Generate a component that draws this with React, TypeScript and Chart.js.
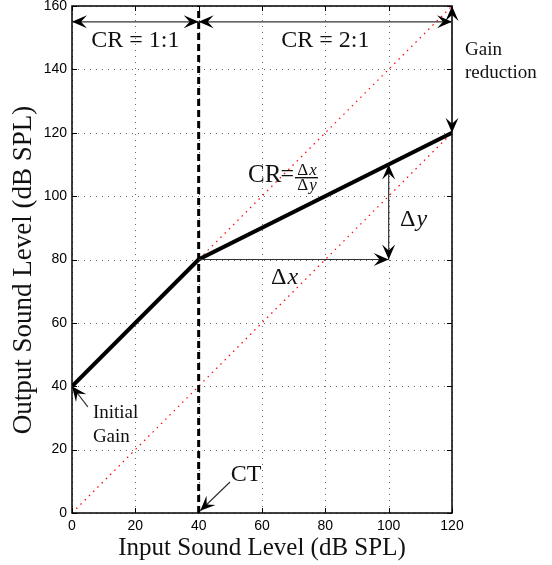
import React, { useEffect, useRef } from "react";
import { Chart, registerables } from "chart.js";
Chart.register(...registerables);

// ---- data ----
const xTicks = [0, 20, 40, 60, 80, 100, 120];
const yTicks = [0, 20, 40, 60, 80, 100, 120, 140, 160];
const inputLevel = [0, 40, 120];
const outputLevel = [40, 80, 120];
const unityX = [0, 120];
const unityY = [0, 120];
const gainLineX = [0, 120];
const gainLineY = [40, 160];
const thresholdX = [40, 40];
const thresholdY = [0, 160];

// arrows in data coordinates
const arrowFrom = [[0, 155], [40, 155], [120, 160], [40, 80], [100, 110], [5, 33.5], [49.9, 9.8]];
const arrowTo = [[40, 155], [120, 155], [120, 120], [100, 80], [100, 80], [0, 40], [40.5, 0.7]];
const arrowBoth = [true, true, true, false, true, false, false];

// text labels in data coordinates
const labelText = ["CR = 1:1", "CR = 2:1", "Gain", "reduction", "Initial", "Gain", "CT"];
const labelX = [20, 80, 124.1, 124.1, 6.6, 6.6, 55];
const labelY = [149, 149, 146, 138.8, 31.6, 24, 12];
const labelSize = [24, 24, 19, 19, 19, 19, 24];
const labelAlign = ["center", "center", "left", "left", "left", "left", "center"];

// math labels
const deltaYLabel = { x: 107.7, y: 92.5, v: "y" };
const deltaXLabel = { x: 67, y: 74.2, v: "x" };
const crLabel = { x: 55.6, y: 104.4 };

const xTitle = "Input Sound Level (dB SPL)";
const yTitle = "Output Sound Level (dB SPL)";

const SERIF = '"Liberation Serif", "DejaVu Serif", serif';
const SANS = '"Liberation Sans", Arial, sans-serif';

function drawHead(ctx: CanvasRenderingContext2D, tx: number, ty: number, fx: number, fy: number) {
  const a = Math.atan2(ty - fy, tx - fx);
  const L = 15, W = 6.5, N = 9;
  ctx.save();
  ctx.translate(tx, ty);
  ctx.rotate(a);
  ctx.beginPath();
  ctx.moveTo(0, 0);
  ctx.lineTo(-L, W);
  ctx.lineTo(-N, 0);
  ctx.lineTo(-L, -W);
  ctx.closePath();
  ctx.fillStyle = "#000";
  ctx.fill();
  ctx.restore();
}

function drawDelta(
  ctx: CanvasRenderingContext2D,
  v: string,
  cx: number,
  cy: number,
  size: number,
  baseline: CanvasTextBaseline = "middle"
) {
  ctx.font = `${size}px ${SERIF}`;
  const w1 = ctx.measureText("Δ").width;
  ctx.font = `italic ${size}px ${SERIF}`;
  const w2 = ctx.measureText(v).width;
  const start = cx - (w1 + w2) / 2;
  ctx.textAlign = "left";
  ctx.textBaseline = baseline;
  ctx.font = `${size}px ${SERIF}`;
  ctx.fillText("Δ", start, cy);
  ctx.font = `italic ${size}px ${SERIF}`;
  ctx.fillText(v, start + w1 + 1, cy);
  return w1 + w2;
}

const annotPlugin = {
  id: "annot",
  beforeDatasetsDraw(chart: any) {
    const { ctx, chartArea: a, scales } = chart;
    const xs = scales.x, ys = scales.y;
    ctx.save();
    ctx.strokeStyle = "#666";
    ctx.lineWidth = 1;
    ctx.setLineDash([1, 5]);
    xTicks.forEach((t) => {
      const px = Math.round(xs.getPixelForValue(t)) + 0.5;
      ctx.beginPath();
      ctx.moveTo(px, a.bottom);
      ctx.lineTo(px, a.top);
      ctx.stroke();
    });
    yTicks.forEach((t) => {
      const py = Math.round(ys.getPixelForValue(t)) + 0.5;
      ctx.beginPath();
      ctx.moveTo(a.left, py);
      ctx.lineTo(a.right, py);
      ctx.stroke();
    });
    ctx.restore();
  },
  afterDatasetsDraw(chart: any) {
    const { ctx, chartArea: a, scales } = chart;
    const xs = scales.x, ys = scales.y;
    ctx.save();
    // box + inward ticks
    ctx.setLineDash([]);
    ctx.strokeStyle = "#000";
    ctx.lineWidth = 1.5;
    ctx.strokeRect(a.left, a.top, a.right - a.left, a.bottom - a.top);
    ctx.lineWidth = 1;
    const tl = 5;
    xTicks.forEach((t) => {
      const px = Math.round(xs.getPixelForValue(t)) + 0.5;
      ctx.beginPath();
      ctx.moveTo(px, a.bottom);
      ctx.lineTo(px, a.bottom - tl);
      ctx.moveTo(px, a.top);
      ctx.lineTo(px, a.top + tl);
      ctx.stroke();
    });
    yTicks.forEach((t) => {
      const py = Math.round(ys.getPixelForValue(t)) + 0.5;
      ctx.beginPath();
      ctx.moveTo(a.left, py);
      ctx.lineTo(a.left + tl, py);
      ctx.moveTo(a.right, py);
      ctx.lineTo(a.right - tl, py);
      ctx.stroke();
    });

    // arrows
    arrowFrom.forEach((f, i) => {
      const t = arrowTo[i];
      const fx = xs.getPixelForValue(f[0]), fy = ys.getPixelForValue(f[1]);
      const tx = xs.getPixelForValue(t[0]), ty = ys.getPixelForValue(t[1]);
      ctx.strokeStyle = "#333";
      ctx.lineWidth = 1.2;
      ctx.beginPath();
      ctx.moveTo(fx, fy);
      ctx.lineTo(tx, ty);
      ctx.stroke();
      drawHead(ctx, tx, ty, fx, fy);
      if (arrowBoth[i]) drawHead(ctx, fx, fy, tx, ty);
    });

    // text labels
    ctx.fillStyle = "#111";
    labelText.forEach((txt, i) => {
      ctx.font = `${labelSize[i]}px ${SERIF}`;
      ctx.textAlign = labelAlign[i] as CanvasTextAlign;
      ctx.textBaseline = "middle";
      ctx.fillText(txt, xs.getPixelForValue(labelX[i]), ys.getPixelForValue(labelY[i]));
    });

    // delta labels
    drawDelta(ctx, deltaYLabel.v, xs.getPixelForValue(deltaYLabel.x), ys.getPixelForValue(deltaYLabel.y), 24);
    drawDelta(ctx, deltaXLabel.v, xs.getPixelForValue(deltaXLabel.x), ys.getPixelForValue(deltaXLabel.y), 24);

    // CR = Δx/Δy
    const cx = xs.getPixelForValue(crLabel.x), cb = ys.getPixelForValue(crLabel.y);
    ctx.textAlign = "left";
    ctx.textBaseline = "alphabetic";
    ctx.font = `25px ${SERIF}`;
    ctx.fillText("CR", cx, cb);
    const wcr = ctx.measureText("CR").width;
    ctx.font = `24px ${SERIF}`;
    ctx.fillText("=", cx + wcr - 1, cb - 1);
    const weq = ctx.measureText("=").width;
    const fx0 = cx + wcr + weq;
    const fw = 23;
    drawDelta(ctx, "x", fx0 + fw / 2, cb - 7.5, 17, "alphabetic");
    drawDelta(ctx, "y", fx0 + fw / 2, cb + 8, 17, "alphabetic");
    ctx.strokeStyle = "#111";
    ctx.lineWidth = 1.4;
    ctx.beginPath();
    ctx.moveTo(fx0, cb - 4.5);
    ctx.lineTo(fx0 + fw, cb - 4.5);
    ctx.stroke();

    // y axis title
    ctx.save();
    ctx.translate(24, 270);
    ctx.rotate(-Math.PI / 2);
    ctx.font = `27px ${SERIF}`;
    ctx.textAlign = "center";
    ctx.textBaseline = "middle";
    ctx.fillStyle = "#111";
    ctx.fillText(yTitle, 0, 0);
    ctx.restore();
    ctx.restore();
  },
};

const pts = (xs: number[], ys: number[]) => xs.map((x, i) => ({ x, y: ys[i] }));

export default function App() {
  const ref = useRef<HTMLCanvasElement | null>(null);
  useEffect(() => {
    document.body.style.margin = "0";
    const chart = new Chart(ref.current as HTMLCanvasElement, {
      type: "line",
      data: {
        datasets: [
          {
            data: pts(inputLevel, outputLevel),
            borderColor: "#000",
            borderWidth: 4,
            pointRadius: 0,
            borderCapStyle: "round",
          },
          {
            data: pts(thresholdX, thresholdY),
            borderColor: "#000",
            borderWidth: 3,
            borderDash: [7, 4],
            pointRadius: 0,
          },
          {
            data: pts(gainLineX, gainLineY),
            borderColor: "#f00",
            borderWidth: 1.2,
            borderDash: [1.5, 4.5],
            pointRadius: 0,
          },
          {
            data: pts(unityX, unityY),
            borderColor: "#f00",
            borderWidth: 1.2,
            borderDash: [1.5, 4.5],
            pointRadius: 0,
          },
        ],
      },
      options: {
        responsive: false,
        animation: false,
        layout: { padding: { left: 0, top: 6, right: 100, bottom: 0 } },
        plugins: { legend: { display: false }, tooltip: { enabled: false } },
        scales: {
          x: {
            type: "linear",
            min: 0,
            max: 120,
            afterBuildTicks: (s: any) => {
              s.ticks = xTicks.map((v) => ({ value: v }));
            },
            afterFit: (s: any) => {
              s.height = 52;
              s.paddingLeft = 0;
              s.paddingRight = 0;
            },
            ticks: { font: { family: SANS, size: 14 }, color: "#000", padding: 5, maxRotation: 0 },
            grid: { display: false, drawTicks: false },
            border: { display: false },
            title: {
              display: true,
              text: xTitle,
              font: { family: SERIF, size: 25 },
              color: "#111",
              padding: { top: 0, bottom: 2 },
            },
          },
          y: {
            type: "linear",
            min: 0,
            max: 160,
            afterBuildTicks: (s: any) => {
              s.ticks = yTicks.map((v) => ({ value: v }));
            },
            afterFit: (s: any) => {
              s.width = 72;
              s.paddingTop = 0;
              s.paddingBottom = 0;
            },
            ticks: { font: { family: SANS, size: 14 }, color: "#000", padding: 5 },
            grid: { display: false, drawTicks: false },
            border: { display: false },
            title: { display: false },
          },
        },
      },
      plugins: [annotPlugin],
    } as any);
    return () => chart.destroy();
  }, []);
  return (
    <div style={{ width: 552, height: 565 }}>
      <canvas ref={ref} width={552} height={565} style={{ display: "block" }} />
    </div>
  );
}
